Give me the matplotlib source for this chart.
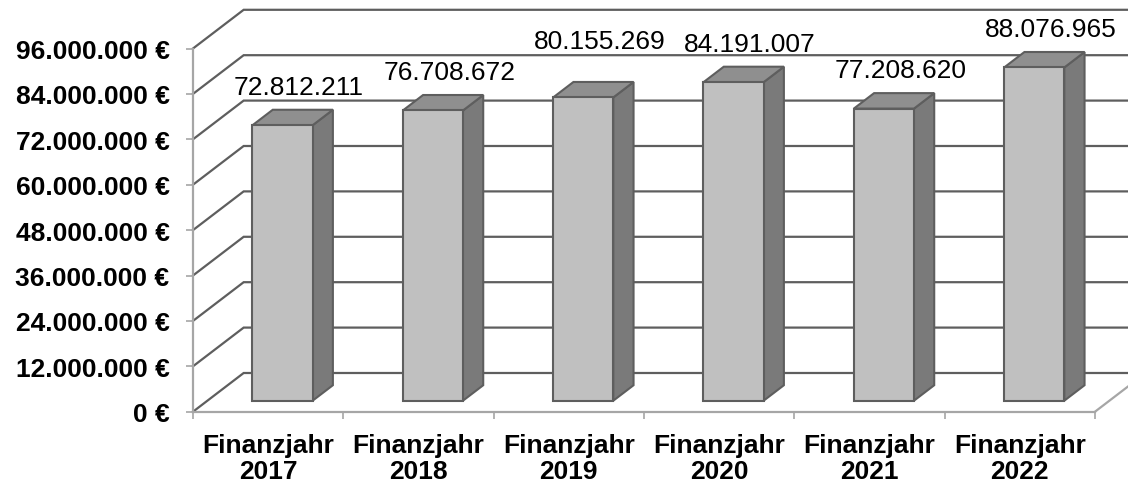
import matplotlib
matplotlib.use("Agg")
import matplotlib.pyplot as plt
from matplotlib.patches import Polygon


YEARS = ["2017", "2018", "2019", "2020", "2021", "2022"]
VALUES = [72812211, 76708672, 80155269, 84191007, 77208620, 88076965]
Y_TICKS = [0, 12000000, 24000000, 36000000, 48000000, 60000000, 72000000, 84000000, 96000000]

# 3d look: how far the back wall is shifted (x in categories, y in euro)
DEPTH_X = 0.337
DEPTH_Y = 10230000
BAR_WIDTH = 0.4
BAR_FRONT = 0.284   # depth fraction of the bar front face
BAR_DEPTH = 0.40    # depth fraction the bar occupies

FRONT_COLOR = "#c0c0c0"
TOP_COLOR = "#8f8f8f"
SIDE_COLOR = "#7a7a7a"
EDGE_COLOR = "#5e5e5e"
GRID_COLOR = "#5e5e5e"
AXIS_COLOR = "#a6a6a6"

# label of 2019 sits higher in the original layout
LABEL_LIFT = {2: 4700000}

FONT = "Liberation Sans"
OUT_FILE = "out.png"


def euro(v):
    return f"{v:,.0f} €".replace(",", ".")


def dotted(v):
    return f"{v:,.0f}".replace(",", ".")


def draw_walls(ax):
    x0 = -0.5
    x1 = len(YEARS) - 0.5
    for v in Y_TICKS:
        ax.plot([x0, x0 + DEPTH_X, x1 + DEPTH_X], [v, v + DEPTH_Y, v + DEPTH_Y],
                color=GRID_COLOR, lw=1.6, clip_on=False, zorder=1,
                solid_joinstyle="miter")
    # right edge of the floor
    ax.plot([x1, x1 + DEPTH_X], [0, DEPTH_Y], color=AXIS_COLOR, lw=1.6,
            clip_on=False, zorder=1)


def draw_bar(ax, i, value):
    fx = BAR_FRONT * DEPTH_X
    fy = BAR_FRONT * DEPTH_Y
    dx = BAR_DEPTH * DEPTH_X
    dy = BAR_DEPTH * DEPTH_Y
    left = i - BAR_WIDTH / 2 + fx
    right = i + BAR_WIDTH / 2 + fx
    bottom = fy
    top = value + fy

    front = [(left, bottom), (right, bottom), (right, top), (left, top)]
    side = [(right, bottom), (right + dx, bottom + dy), (right + dx, top + dy), (right, top)]
    lid = [(left, top), (right, top), (right + dx, top + dy), (left + dx, top + dy)]

    for pts, col in ((side, SIDE_COLOR), (lid, TOP_COLOR), (front, FRONT_COLOR)):
        ax.add_patch(Polygon(pts, closed=True, facecolor=col, edgecolor=EDGE_COLOR,
                             lw=1.5, joinstyle="miter", clip_on=False, zorder=3))

    label_y = top + dy + 6000000 + LABEL_LIFT.get(i, 0)
    ax.text(i + fx + 0.11, label_y, dotted(value), ha="center", va="center",
            fontsize=19, family=FONT, color="black", zorder=5)


def main():
    fig = plt.figure(figsize=(11.28, 4.85), dpi=100)
    ax = fig.add_axes([193 / 1128, (485 - 412.7) / 485, 902 / 1128, 363.2 / 485])
    ax.set_xlim(-0.5, len(YEARS) - 0.5)
    ax.set_ylim(0, 96000000)

    draw_walls(ax)
    for i, v in enumerate(VALUES):
        draw_bar(ax, i, v)

    for side in ("top", "right"):
        ax.spines[side].set_visible(False)
    for side in ("left", "bottom"):
        ax.spines[side].set_color(AXIS_COLOR)
        ax.spines[side].set_linewidth(1.6)
        ax.spines[side].set_zorder(2)

    ax.set_yticks(Y_TICKS)
    ax.set_yticklabels([euro(v) for v in Y_TICKS])
    ax.tick_params(axis="y", length=5, width=1.2, color=AXIS_COLOR, pad=12)

    ax.set_xticks([i - 0.5 for i in range(len(YEARS) + 1)])
    ax.set_xticklabels([])
    ax.set_xticks(range(len(YEARS)), minor=True)
    ax.set_xticklabels([f"Finanzjahr\n{y}" for y in YEARS], minor=True)
    ax.tick_params(axis="x", which="major", length=5, width=1.2, color=AXIS_COLOR)
    ax.tick_params(axis="x", which="minor", length=0, pad=15)

    for lab in ax.get_yticklabels() + ax.get_xticklabels(minor=True):
        lab.set_fontfamily(FONT)
        lab.set_fontweight("bold")
        lab.set_fontsize(19)
    for lab in ax.get_xticklabels(minor=True):
        lab.set_linespacing(1.15)

    ax.patch.set_visible(False)
    fig.savefig(OUT_FILE, dpi=100)
    plt.close(fig)
    print(f"Saved plot: {OUT_FILE}")


if __name__ == "__main__":
    main()
